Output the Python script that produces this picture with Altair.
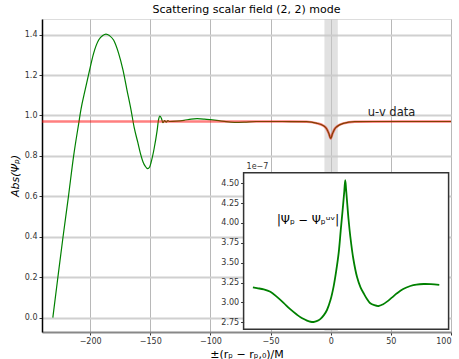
import altair as alt
import pandas as pd

# ---------------- data ----------------
# main green curve (numerical field)
gx = [-231, -227, -222.5, -218, -213.7, -209.5, -207.6, -204, -200.4, -197.1, -192.9, -189.5,
      -186.8, -184, -180.5, -176.3, -172.7, -169.4, -166, -163.3, -160.5, -158.3, -156, -154.2,
      -152.2, -150.5, -149.4, -146.7, -144.4, -143.1, -142, -140.6, -139.5, -138.1, -136.7,
      -135.3, -134, -128, -122, -116, -111, -105, -100, -93, -87, -80, -72, -62, -40, -20,
      -12, -6, -3.3, -1.5, 0, 1.5, 3.3, 5, 10.5, 20, 40, 70, 100]
gy = [0.0, 0.19, 0.40, 0.60, 0.80, 0.96, 1.03, 1.13, 1.225, 1.307, 1.373, 1.395,
      1.402, 1.395, 1.373, 1.307, 1.225, 1.127, 1.028, 0.938, 0.87, 0.815, 0.77, 0.749,
      0.737, 0.745, 0.766, 0.839, 0.921, 0.979, 0.997, 0.984, 0.964, 0.974, 0.967,
      0.974, 0.970, 0.972, 0.976, 0.982, 0.984, 0.982, 0.979, 0.974, 0.969, 0.966, 0.967, 0.970, 0.970, 0.969,
      0.962, 0.949, 0.933, 0.91, 0.886, 0.91, 0.933, 0.944, 0.961, 0.969, 0.970, 0.970, 0.970]

# red curve (u-v data)
rx = [-240, -150, -60, -20, -12, -6, -3.3, -1.5, 0, 1.5, 3.3, 5, 10.5, 20, 60, 100]
ry = [0.970, 0.970, 0.970, 0.969, 0.962, 0.949, 0.933, 0.91, 0.886, 0.91, 0.933, 0.944, 0.961, 0.969, 0.970, 0.970]

# shaded band
band_lo = [-5.2]
band_hi = [5.9]

# inset difference curve (units of 1e-7)
ix = [-65, -61.6, -56, -50.5, -45, -39.5, -34, -28.3, -24, -20, -17, -14.5, -12, -9, -6, -3.4,
      -0.5, 2.1, 4.3, 6.3, 8, 9.6, 11, 11.8, 12.5, 13.2, 14.5, 16, 18.5, 21.6, 24.5, 27.1, 30,
      32.6, 36, 39.5, 43, 46.5, 50.5, 54.8, 60, 65.9, 71, 77, 83, 90]
iy = [3.19, 3.18, 3.165, 3.135, 3.07, 2.995, 2.915, 2.845, 2.80, 2.772, 2.757, 2.754, 2.764, 2.79,
      2.84, 2.905, 3.03, 3.20, 3.40, 3.62, 3.90, 4.16, 4.40, 4.54, 4.42, 4.29, 4.05, 3.83, 3.55,
      3.32, 3.19, 3.115, 3.04, 2.99, 2.965, 2.955, 2.975, 3.01, 3.06, 3.115, 3.17, 3.207, 3.225,
      3.232, 3.23, 3.22]

x_ticks = [-200, -150, -100, -50, 0, 50, 100]
y_ticks = [0.0, 0.2, 0.4, 0.6, 0.8, 1.0, 1.2, 1.4]
inset_ticks = [2.75, 3.00, 3.25, 3.50, 3.75, 4.00, 4.25, 4.50]

x_dom = [-240, 100]
y_dom = [-0.071, 1.477]
ix_dom = [-72.75, 97.75]
iy_dom = [2.662, 4.633]

FONT = "DejaVu Sans"
W, H = 409, 313

# ---------------- main panel ----------------
xs = alt.Scale(domain=x_dom, nice=False, zero=False)
ys = alt.Scale(domain=y_dom, nice=False, zero=False)

xaxis = alt.Axis(values=x_ticks, format="d", title="±(rₚ − rₚ,₀)/M", titleFontSize=11,
                 titleFont=FONT, titleFontWeight="normal", titleColor="black", titlePadding=3,
                 labelFont=FONT, labelFontSize=8, labelColor="#333", tickSize=3,
                 gridColor="#b8b8b8", gridWidth=1, domainColor="#888", domainWidth=2,
                 tickColor="#333")
yaxis = alt.Axis(values=y_ticks, format=".1f", title="Abs(Ψₚ)", titleFontSize=11,
                 titleFont=FONT, titleFontStyle="italic", titleFontWeight="normal",
                 titleColor="black", titlePadding=4,
                 labelFont=FONT, labelFontSize=8, labelColor="#333", tickSize=3,
                 gridColor="#d0d0d0", gridWidth=1.8, domainColor="black", domainWidth=1.5,
                 tickColor="#333")

band = alt.Chart(pd.DataFrame({"lo": band_lo, "hi": band_hi})).mark_rect(
    color="#c8c8c8", opacity=0.55
).encode(
    x=alt.X("lo:Q", scale=xs, axis=xaxis),
    x2="hi:Q",
    y=alt.value(0),
    y2=alt.value(H),
)

green = alt.Chart(pd.DataFrame({"x": gx, "y": gy})).mark_line(
    color="green", strokeWidth=1.2, interpolate="monotone"
).encode(
    x=alt.X("x:Q", scale=xs, axis=xaxis),
    y=alt.Y("y:Q", scale=ys, axis=yaxis),
    order="x:Q",
)

red = alt.Chart(pd.DataFrame({"x": rx, "y": ry})).mark_line(
    color="red", strokeWidth=2.5, opacity=0.5, interpolate="monotone"
).encode(
    x=alt.X("x:Q", scale=xs),
    y=alt.Y("y:Q", scale=ys),
    order="x:Q",
)

uvtext = alt.Chart(pd.DataFrame({"x": [30.8], "y": [0.998], "t": ["u-v data"]})).mark_text(
    align="left", baseline="alphabetic", font=FONT, fontSize=11.5, color="#222"
).encode(x=alt.X("x:Q", scale=xs), y=alt.Y("y:Q", scale=ys), text="t:N")

main = alt.layer(band, green, red, uvtext)

# ---------------- inset panel ----------------
ixs = alt.Scale(domain=ix_dom, range=[201.6, 406.6], nice=False, zero=False)
iys = alt.Scale(domain=iy_dom, range=[310.3, 153.7], nice=False, zero=False)
iyaxis = alt.Axis(values=inset_ticks, format=".2f", title=None, orient="left", offset=-201.6,
                  grid=False, labelFont=FONT, labelFontSize=8, labelColor="#333",
                  tickSize=3, tickColor="#333", domain=False, zindex=1)

ibox = alt.Chart(pd.DataFrame({"x": [ix_dom[0]], "x2": [ix_dom[1]],
                               "y": [iy_dom[0]], "y2": [iy_dom[1]]})).mark_rect(
    fill="white", stroke="#333", strokeWidth=1.5
).encode(
    x=alt.X("x:Q", scale=ixs, axis=None),
    x2="x2:Q",
    y=alt.Y("y:Q", scale=iys, axis=iyaxis),
    y2="y2:Q",
)

iline = alt.Chart(pd.DataFrame({"x": ix, "y": iy})).mark_line(
    color="green", strokeWidth=1.8, interpolate="catmull-rom"
).encode(
    x=alt.X("x:Q", scale=ixs, axis=None),
    y=alt.Y("y:Q", scale=iys, axis=iyaxis),
    order="x:Q",
)

itext = alt.Chart(pd.DataFrame({"x": [-45], "y": [4.02], "t": ["|Ψₚ − Ψₚᵘᵛ|"]})).mark_text(
    align="left", baseline="middle", font=FONT, fontSize=11.5, color="black"
).encode(x=alt.X("x:Q", scale=ixs, axis=None), y=alt.Y("y:Q", scale=iys, axis=iyaxis), text="t:N")

offtext = alt.Chart(pd.DataFrame({"x": [ix_dom[0]], "y": [iy_dom[1]], "t": ["1e−7"]})).mark_text(
    align="left", baseline="bottom", font=FONT, fontSize=8, color="#333", dx=3, dy=-2
).encode(x=alt.X("x:Q", scale=ixs, axis=None), y=alt.Y("y:Q", scale=iys, axis=iyaxis), text="t:N")

inset = alt.layer(ibox, iline, itext, offtext)

chart = alt.layer(main, inset).resolve_scale(
    x="independent", y="independent"
).resolve_axis(
    x="independent", y="independent"
).properties(
    width=W, height=H,
    title=alt.TitleParams("Scattering scalar field (2, 2) mode", font=FONT, fontSize=11,
                          fontWeight="normal", color="black", offset=4),
    autosize=alt.AutoSizeParams(type="none"),
    padding={"left": 42, "top": 19, "right": 8, "bottom": 27},
).configure_view(
    stroke="#666", strokeWidth=1.5
).configure(background="white")

chart.save("out.html", embed_options={"renderer": "svg", "actions": False})
